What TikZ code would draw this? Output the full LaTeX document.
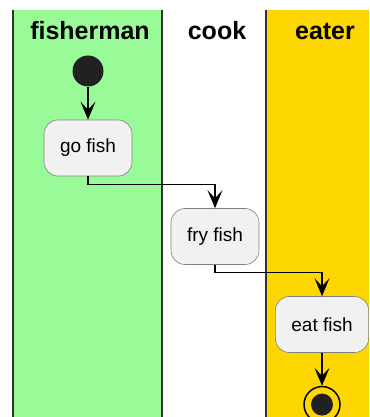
\documentclass[tikz,border=0pt]{standalone}
\usepackage{fontspec}
\setmainfont{Liberation Sans}
\usepackage{xcolor}
\usetikzlibrary{arrows.meta,positioning}
\definecolor{lanegreen}{HTML}{98FB98}
\definecolor{lanegold}{HTML}{FFD700}
\definecolor{actfill}{HTML}{F1F1F1}
\definecolor{actline}{HTML}{181818}

\begin{document}
\begin{tikzpicture}[
  x=1pt, y=-1pt,
  >={Stealth[length=18pt, width=15pt, inset=8pt]},
  act/.style={draw=actline!55, fill=actfill, rounded corners=14pt, line width=0.6pt,
              font=\fontsize{19}{22}\selectfont, inner xsep=16pt, minimum height=56pt},
  lane/.style={font=\fontsize{25}{30}\selectfont\bfseries, anchor=base},
  sep/.style={line width=1.4pt, draw=black!80},
  flow/.style={->, line width=1.1pt},
  node distance=33pt,
]
\useasboundingbox (0,0) rectangle (369,417);
% swimlanes
\fill[lanegreen] (13,10) rectangle (162,417);
\fill[lanegold] (266,10) rectangle (369,417);
\draw[sep] (13,10) -- (13,417);
\draw[sep] (162,10) -- (162,417);
\draw[sep] (266,10) -- (266,417);
\node[lane] (fisherman) at (90,40) {fisherman};
\node[lane] (cook) at (217,40) {cook};
\node[lane] (eater) at (325,40) {eater};
% activities
\node[circle, fill=black!87, inner sep=0pt, minimum size=31pt] (start) at (88,71) {};
\node[act, below=33pt of start] (gofish) {go fish};
\node[act] (fryfish) at (215,236.5) {fry fish};
\node[act] (eatfish) at (322,324.5) {eat fish};
\node[circle, draw=black, fill=lanegold, line width=1.5pt, inner sep=0pt,
      minimum size=36pt, below=33pt of eatfish] (stop) {};
\node[circle, fill=black!87, inner sep=0pt, minimum size=22pt] (stopdot) at (stop) {};
\draw[flow] (start) -- (gofish);
\draw[flow] (gofish.south) -- ++(0,8) -| (fryfish.north);
\draw[flow] (fryfish.south) -- ++(0,8) -| (eatfish.north);
\draw[flow] (eatfish) -- (stop);
\end{tikzpicture}
\end{document}
